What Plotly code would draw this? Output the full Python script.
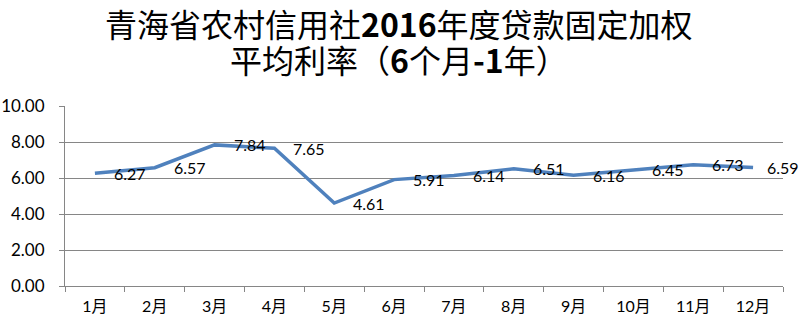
import plotly.graph_objects as go

months = ["1月", "2月", "3月", "4月", "5月", "6月", "7月", "8月", "9月", "10月", "11月", "12月"]
rates = [6.27, 6.57, 7.84, 7.65, 4.61, 5.91, 6.14, 6.51, 6.16, 6.45, 6.73, 6.59]
y_ticks = [0, 2, 4, 6, 8, 10]
y_tick_text = ["0.00", "2.00", "4.00", "6.00", "8.00", "10.00"]
title_line1 = "青海省农村信用社<b>2016</b>年度贷款固定加权"
title_line2 = "平均利率（<b>6</b>个月<b>-1</b>年）"

FONT = "Lato, 'Noto Sans CJK SC', sans-serif"
CJK = "'Noto Sans CJK SC', 'Noto Sans', sans-serif"

fig = go.Figure()
fig.add_trace(go.Scatter(
    x=months, y=rates, mode="lines",
    line=dict(color="#4F81BD", width=3.5),
    cliponaxis=False, showlegend=False, hoverinfo="skip",
))

annotations = []
for i, (m, v) in enumerate(zip(months, rates)):
    annotations.append(dict(
        x=m, y=v, xref="x", yref="y", text=f"{v:.2f}", showarrow=False,
        xanchor="left", yanchor="middle", xshift=12 if i == len(months) - 1 else 17,
        font=dict(family=FONT, size=16, color="#000000"),
    ))
# plot area: 106px (top) .. 286px (bottom), 180px tall
annotations.append(dict(
    x=0.465, y=(286 - 23) / 180, xref="paper", yref="paper", text=title_line1, showarrow=False,
    xanchor="center", yanchor="middle", font=dict(family=CJK, size=32, color="#000000"),
))
annotations.append(dict(
    x=0.465, y=(286 - 59) / 180, xref="paper", yref="paper", text=title_line2, showarrow=False,
    xanchor="center", yanchor="middle", font=dict(family=CJK, size=32, color="#000000"),
))

fig.update_layout(
    width=800, height=318,
    margin=dict(l=65, r=17, t=106, b=32, autoexpand=False),
    paper_bgcolor="white", plot_bgcolor="white",
    annotations=annotations,
    xaxis=dict(
        type="category", tickson="boundaries", ticks="outside", ticklen=5,
        tickcolor="#868686", showline=True, linecolor="#868686", linewidth=1,
        showgrid=False, tickfont=dict(family=FONT, size=16, color="#000000"),
        range=[-0.5, 11.5], ticklabelstandoff=6, automargin=False,
    ),
    yaxis=dict(
        range=[0, 10], tickvals=y_ticks, ticktext=y_tick_text,
        ticks="outside", ticklen=5, tickcolor="#868686",
        showline=True, linecolor="#868686", linewidth=1,
        showgrid=True, gridcolor="#868686", gridwidth=1, zeroline=False,
        tickfont=dict(family=FONT, size=17, color="#000000"),
        ticklabelstandoff=11, automargin=False,
    ),
)

fig.write_html("out.html")
